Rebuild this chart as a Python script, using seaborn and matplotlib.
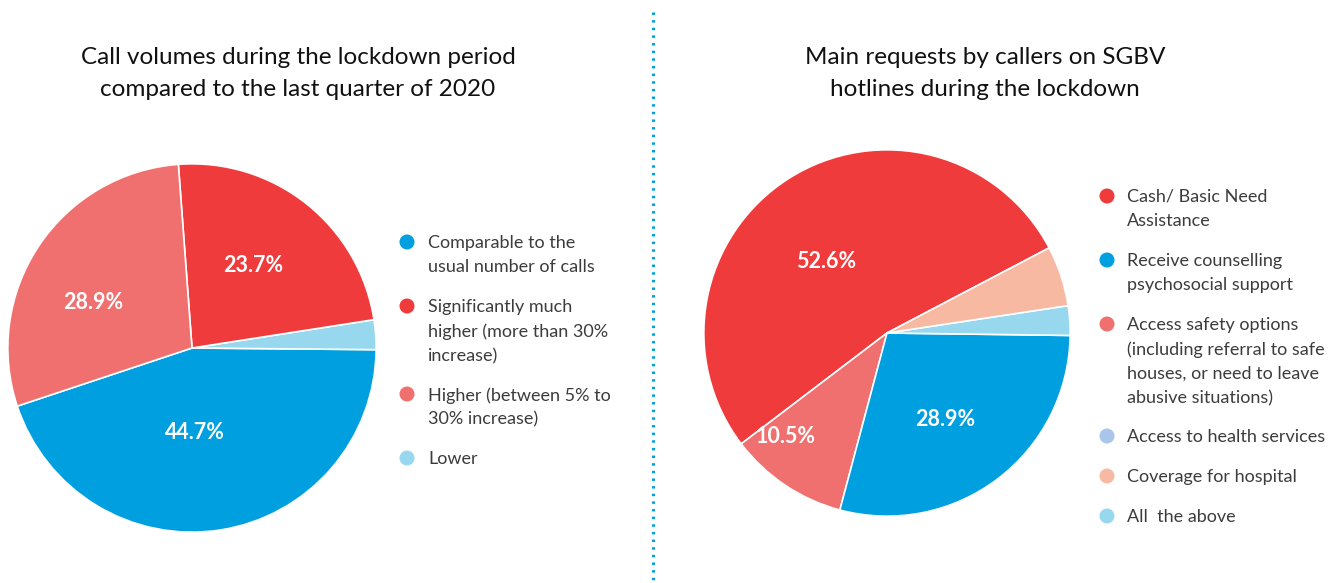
import matplotlib
matplotlib.use("Agg")
import numpy as np
import matplotlib.pyplot as plt
import seaborn as sns
from matplotlib.patches import Ellipse
from matplotlib.lines import Line2D

sns.set_theme(style="white")
plt.rcParams['font.family'] = ['Lato', 'DejaVu Sans']

# ---------------- data ----------------
left_title = "Call volumes during the lockdown period\ncompared to the last quarter of 2020"
left_categories = ["Comparable to the\nusual number of calls",
                   "Significantly much\nhigher (more than 30%\nincrease)",
                   "Higher (between 5% to\n30% increase)",
                   "Lower"]
left_values = [44.7, 23.7, 28.9, 2.6]
left_show_pct = [True, True, True, False]

right_title = "Main requests by callers on SGBV\nhotlines during the lockdown"
right_categories = ["Cash/ Basic Need\nAssistance",
                    "Receive counselling\npsychosocial support",
                    "Access safety options\n(including referral to safe\nhouses, or need to leave\nabusive situations)",
                    "Access to health services",
                    "Coverage for hospital",
                    "All  the above"]
right_values = [52.6, 28.9, 10.5, 0.0, 5.3, 2.6]
right_show_pct = [True, True, True, False, False, False]

# ---------------- style ----------------
W, H = 1343, 583
RED = "#EF3B3B"
BLUE = "#009FDF"
PINK = "#F07070"
LBLUE = "#98D8EF"
PEACH = "#F8B9A3"
LAV = "#A9C6EA"
left_colors = [BLUE, RED, PINK, LBLUE]
right_colors = [RED, BLUE, PINK, LAV, PEACH, LBLUE]
TEXT_GRAY = "#3C3C3C"

fig = plt.figure(figsize=(W / 100, H / 100), dpi=100)
fig.patch.set_facecolor("white")


def px_axes(cx, cy, r):
    return fig.add_axes([(cx - r) / W, (H - cy - r) / H, 2 * r / W, 2 * r / H])


def draw_pie(ax, values, colors, show, order, startangle, counterclock,
             pct_r, pct_da):
    keep = [i for i in order if values[i] > 0]
    vals = [values[i] for i in keep]
    cols = [colors[i] for i in keep]
    wedges, _ = ax.pie(vals, colors=cols, startangle=startangle,
                       counterclock=counterclock, radius=1,
                       wedgeprops=dict(edgecolor="white", linewidth=1.2))
    for w, i in zip(wedges, keep):
        if not show[i]:
            continue
        ang = np.deg2rad((w.theta1 + w.theta2) / 2 + pct_da[i])
        ax.text(pct_r[i] * np.cos(ang), pct_r[i] * np.sin(ang),
                f"{values[i]:.1f}%", ha="center", va="center",
                color="white", fontsize=15.5, fontweight="bold")
    ax.set_xlim(-1.01, 1.01)
    ax.set_ylim(-1.01, 1.01)
    ax.set_aspect("equal")
    ax.axis("off")


# left pie: counterclockwise from lower-left: blue, lower, red, pink
axL = px_axes(192, 348, 186)
draw_pie(axL, left_values, left_colors, left_show_pct,
         order=[0, 3, 1, 2], startangle=198.4, counterclock=True,
         pct_r=[0.46, 0.56, 0.59, 0.6], pct_da=[-7, 2, 9, 0])

# right pie: counterclockwise from ~28 deg: red, pink, blue, all, hospital
axR = px_axes(887, 333, 185)
draw_pie(axR, right_values, right_colors, right_show_pct,
         order=[0, 2, 1, 5, 4, 3], startangle=27.7, counterclock=True,
         pct_r=[0.51, 0.57, 0.79, 0.6, 0.6, 0.6], pct_da=[8, -3.5, -10.5, 0, 0, 0])

# titles
for cx, title in [(298, left_title), (985, right_title)]:
    fig.text(cx / W, 1 - 47 / H, title, ha="center", va="top",
             fontsize=17.5, color="#111111", linespacing=1.63)


# legends
def draw_legend(x_dot, x_text, y_first, cats, colors):
    y = y_first
    line_h = 24
    gap = 16
    for cat, col in zip(cats, colors):
        fig.add_artist(Ellipse((x_dot / W, 1 - y / H), 15 / W, 15 / H,
                               transform=fig.transFigure, color=col, lw=0))
        fig.text(x_text / W, 1 - (y - 7) / H, cat, ha="left", va="top",
                 fontsize=13, color=TEXT_GRAY, linespacing=1.62)
        n = cat.count("\n") + 1
        y += n * line_h + gap


draw_legend(407, 428, 242, left_categories, left_colors)
draw_legend(1107, 1127, 196, right_categories, right_colors)

# dotted divider
fig.add_artist(Line2D([653 / W, 653 / W], [1 - 12 / H, 1 - 580 / H],
                      transform=fig.transFigure, color=BLUE, lw=2.2,
                      linestyle=(0, (0.8, 1.7))))

fig.savefig("out.png", dpi=100, facecolor="white")
